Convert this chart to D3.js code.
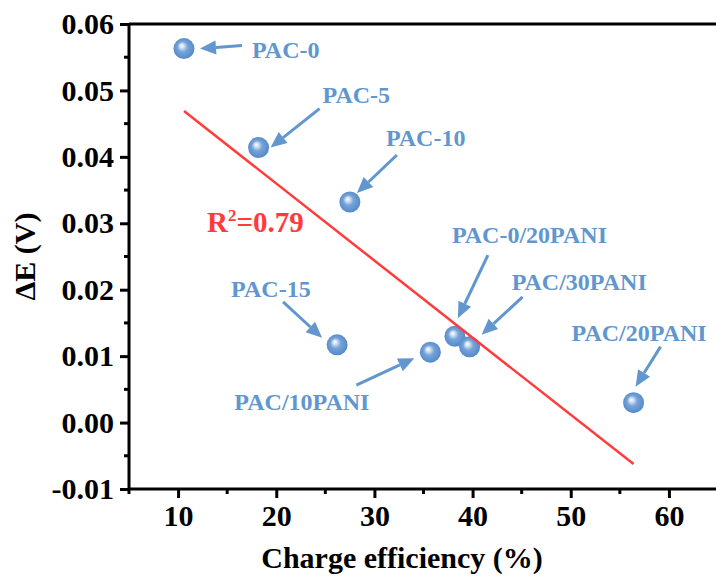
<!DOCTYPE html>
<html>
<head>
<meta charset="utf-8">
<script src="https://cdn.jsdelivr.net/npm/d3@7"></script>
<style>
  html, body { margin: 0; padding: 0; background: #fff; }
  svg { display: block; font-family: "Liberation Serif", "Times New Roman", serif; font-weight: bold; }
</style>
</head>
<body>
<div id="chart"></div>
<script>
// Data
const samples = ["PAC-0", "PAC-5", "PAC-10", "PAC-15", "PAC/10PANI", "PAC-0/20PANI", "PAC/30PANI", "PAC/20PANI"];
const chargeEfficiency = [10.6, 18.2, 27.5, 26.2, 35.7, 38.2, 39.7, 56.4];
const deltaE = [0.0563, 0.0414, 0.0332, 0.0117, 0.0106, 0.0130, 0.0114, 0.0030];
const xTicks = [10, 20, 30, 40, 50, 60];
const yTicks = [-0.01, 0.00, 0.01, 0.02, 0.03, 0.04, 0.05, 0.06];
const r2Label = "0.79";

// Label / arrow placement, pixel offsets from each point: [text dx, dy, arrow start dx, dy, tip dx, dy]
const annot = {
  "PAC-0": [68, 9, 58, -3, 16, 0],
  "PAC-5": [64, -45, 61, -39, 12, 0],
  "PAC-10": [36, -56, 47, -47, 7, -9],
  "PAC-15": [-106, -48, -54, -43, -15, -7],
  "PAC/10PANI": [-196, 58, -74, 33, -16, 6],
  "PAC-0/20PANI": [-3, -93, 33, -81, 3, -18],
  "PAC/30PANI": [42, -57, 53, -50, 12, -12],
  "PAC/20PANI": [-62, -62, 27, -56, 2, -16]
};

const width = 716, height = 577;
const margin = { left: 129, top: 24, right: -2, bottom: 88 };

const svg = d3.select("#chart").append("svg")
  .attr("width", width)
  .attr("height", height)
  .attr("viewBox", [0, 0, width, height]);

const x = d3.scaleLinear().domain([5, 65]).range([margin.left, width - margin.right]);
const y = d3.scaleLinear().domain([-0.01, 0.06]).range([height - margin.bottom, margin.top]);

const data = samples.map((s, i) => ({ name: s, x: chargeEfficiency[i], y: deltaE[i] }));

// Sphere gradient
const defs = svg.append("defs");
const grad = defs.append("radialGradient")
  .attr("id", "sphere")
  .attr("cx", "50%").attr("cy", "50%").attr("r", "55%")
  .attr("fx", "38%").attr("fy", "35%");
grad.append("stop").attr("offset", "0%").attr("stop-color", "#ffffff");
grad.append("stop").attr("offset", "18%").attr("stop-color", "#d2e2f4");
grad.append("stop").attr("offset", "45%").attr("stop-color", "#76a3d8");
grad.append("stop").attr("offset", "100%").attr("stop-color", "#4f86c6");

const axisColor = "#000";
const blue = "#6196cf";
const yFmt = d3.format(".2f");

// Axes
const xAxis = svg.append("g")
  .attr("transform", `translate(0,${y(-0.01)})`)
  .call(d3.axisBottom(x).tickValues(xTicks).tickFormat(d3.format("d")).tickSize(9).tickPadding(7));
const yAxis = svg.append("g")
  .attr("transform", `translate(${x(5)},0)`)
  .call(d3.axisLeft(y).tickValues(yTicks).tickFormat(d => yFmt(d).replace("−", "-")).tickSize(9).tickPadding(6));

[xAxis, yAxis].forEach(a => {
  a.select(".domain").attr("stroke", axisColor).attr("stroke-width", 3);
  a.selectAll(".tick line").attr("stroke", axisColor).attr("stroke-width", 3);
  a.selectAll(".tick text")
    .attr("fill", axisColor)
    .style("font-family", "Liberation Serif, serif")
    .style("font-weight", "bold")
    .style("font-size", "30px");
});
xAxis.select(".domain").attr("d", `M${x(5)},0H${width}`);
yAxis.select(".domain").attr("d", `M0,${y(-0.01)}V${y(0.06)}`);

// Minor ticks
const xMinor = d3.range(5, 66, 10);
svg.append("g").selectAll("line").data(xMinor).join("line")
  .attr("x1", d => x(d)).attr("x2", d => x(d))
  .attr("y1", y(-0.01)).attr("y2", y(-0.01) + 5)
  .attr("stroke", axisColor).attr("stroke-width", 3);
const yMinor = d3.range(-0.005, 0.06, 0.01);
svg.append("g").selectAll("line").data(yMinor).join("line")
  .attr("x1", x(5)).attr("x2", x(5) - 5)
  .attr("y1", d => y(d)).attr("y2", d => y(d))
  .attr("stroke", axisColor).attr("stroke-width", 3);

// Top border
svg.append("line")
  .attr("x1", x(5)).attr("x2", width)
  .attr("y1", y(0.06)).attr("y2", y(0.06))
  .attr("stroke", axisColor).attr("stroke-width", 3);

// Axis titles
svg.append("text")
  .attr("x", 402).attr("y", 568)
  .attr("text-anchor", "middle")
  .attr("font-size", 30)
  .text("Charge efficiency (%)");
svg.append("text")
  .attr("transform", `translate(35,${(y(0.06) + y(-0.01)) / 2}) rotate(-90)`)
  .attr("text-anchor", "middle")
  .attr("font-size", 30)
  .text("ΔE (V)");

// Points
svg.append("g").selectAll("circle").data(data).join("circle")
  .attr("cx", d => x(d.x))
  .attr("cy", d => y(d.y))
  .attr("r", 10.5)
  .attr("fill", "url(#sphere)");

// Linear fit
const mx = d3.mean(data, d => d.x), my = d3.mean(data, d => d.y);
const slope = d3.sum(data, d => (d.x - mx) * (d.y - my)) / d3.sum(data, d => (d.x - mx) ** 2);
const intercept = my - slope * mx;
const [x0, x1] = d3.extent(data, d => d.x);
svg.append("line")
  .attr("x1", x(x0)).attr("y1", y(intercept + slope * x0))
  .attr("x2", x(x1)).attr("y2", y(intercept + slope * x1))
  .attr("stroke", "#ff3b3b")
  .attr("stroke-width", 2.5);

const r2 = svg.append("text")
  .attr("x", 207).attr("y", 232)
  .attr("fill", "#ff3b3b")
  .attr("font-size", 29);
r2.append("tspan").text("R");
r2.append("tspan").attr("font-size", 17).attr("dy", -11).text("2");
r2.append("tspan").attr("dy", 11).text("=" + r2Label);

// Annotations
const ann = svg.append("g");
data.forEach(d => {
  const [tx, ty, sx, sy, ex, ey] = annot[d.name];
  const px = x(d.x), py = y(d.y);
  ann.append("text")
    .attr("x", px + tx).attr("y", py + ty)
    .attr("fill", blue)
    .attr("font-size", 24)
    .text(d.name);
  // arrow shaft + head
  const ax = px + sx, ay = py + sy, bx = px + ex, by = py + ey;
  const ang = Math.atan2(by - ay, bx - ax);
  const hl = 16, hw = 7;
  const hx = bx - hl * Math.cos(ang), hy = by - hl * Math.sin(ang);
  ann.append("line")
    .attr("x1", ax).attr("y1", ay).attr("x2", hx).attr("y2", hy)
    .attr("stroke", blue).attr("stroke-width", 3);
  const nx = -Math.sin(ang), ny = Math.cos(ang);
  ann.append("path")
    .attr("d", `M${bx},${by}L${hx + nx * hw},${hy + ny * hw}L${hx - nx * hw},${hy - ny * hw}Z`)
    .attr("fill", blue);
});
</script>
</body>
</html>
